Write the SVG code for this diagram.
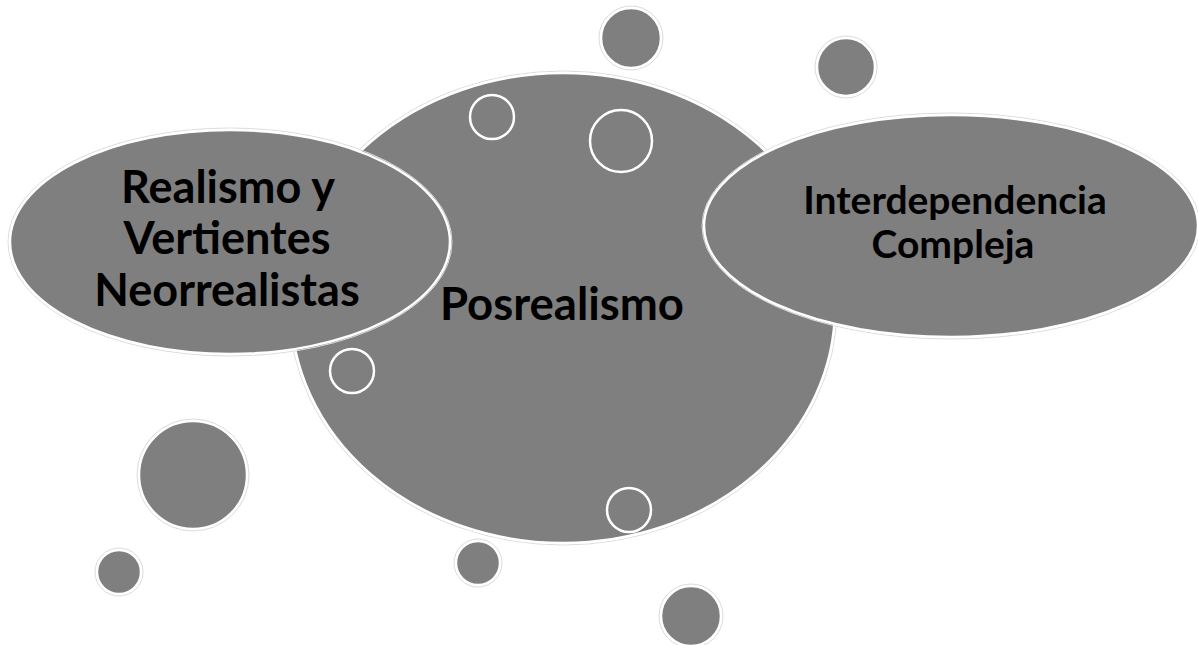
<svg xmlns="http://www.w3.org/2000/svg" width="1198" height="645" viewBox="0 0 1198 645">
<style>
.shape{fill:#7f7f7f;stroke:#ffffff;stroke-width:2.5}
.halo{fill:none;stroke:#dcdcdc;stroke-width:1}
.ring{fill:none;stroke:#ffffff;stroke-width:2.5}
.lbl{font-family:Lato,"Liberation Sans",sans-serif;font-weight:bold;fill:#000000;text-anchor:middle}
</style>
<rect width="1198" height="645" fill="#ffffff"/>
<g id="bubbles">
<circle class="shape" cx="631" cy="38" r="30"/>
<circle class="halo" cx="631" cy="38" r="32"/>
<circle class="shape" cx="846" cy="67" r="29"/>
<circle class="halo" cx="846" cy="67" r="31"/>
<circle class="shape" cx="193" cy="475" r="54"/>
<circle class="halo" cx="193" cy="475" r="56"/>
<circle class="shape" cx="119" cy="572" r="22"/>
<circle class="halo" cx="119" cy="572" r="24"/>
<circle class="shape" cx="478" cy="563" r="22"/>
<circle class="halo" cx="478" cy="563" r="24"/>
<circle class="shape" cx="691" cy="616" r="30"/>
<circle class="halo" cx="691" cy="616" r="32"/>
</g>
<g id="posrealismo">
<ellipse class="halo" cx="563" cy="308" rx="274" ry="237"/>
<ellipse class="shape" cx="563" cy="308" rx="272" ry="235"/>
<text class="lbl" x="562" y="320" font-size="45.5">Posrealismo</text>
</g>
<g id="realismo">
<ellipse class="halo" cx="230" cy="242" rx="222" ry="114"/>
<ellipse class="shape" cx="230" cy="242" rx="220" ry="112"/>
<text class="lbl" font-size="45"><tspan x="228" y="203">Realismo y</tspan><tspan x="227" y="254">Vertientes</tspan><tspan x="227" y="306">Neorrealistas</tspan></text>
</g>
<g id="interdependencia">
<ellipse class="halo" cx="951" cy="226" rx="249" ry="113"/>
<ellipse class="shape" cx="951" cy="226" rx="247" ry="111"/>
<text class="lbl" font-size="39"><tspan x="955" y="214">Interdependencia</tspan><tspan x="953" y="258">Compleja</tspan></text>
</g>
<g id="rings">
<circle class="ring" cx="492" cy="117" r="22"/>
<circle class="ring" cx="621" cy="141" r="31"/>
<circle class="ring" cx="352" cy="371" r="22"/>
<circle class="ring" cx="629" cy="510" r="22"/>
</g>
<g id="connectors"></g>
</svg>
